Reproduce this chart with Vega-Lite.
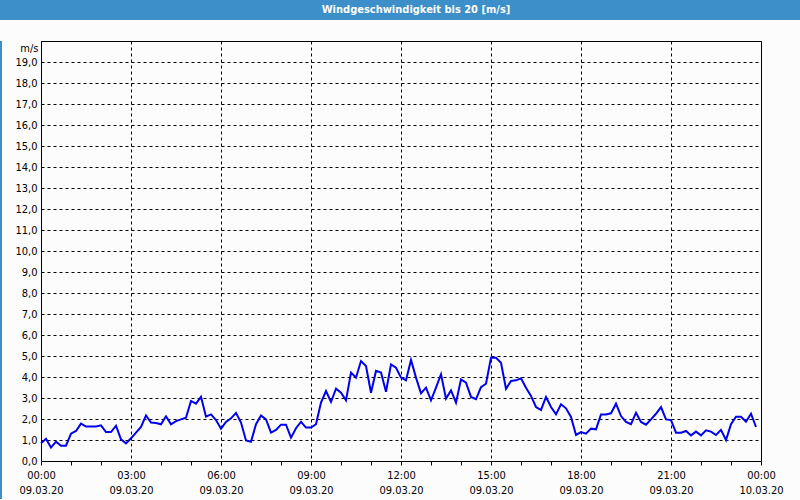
{
  "$schema": "https://vega.github.io/schema/vega-lite/v6.json",
  "background": "#fbfcfb",
  "padding": 0,
  "spacing": 0,
  "align": "none",
  "config": {
    "view": {"stroke": "black", "strokeWidth": 1},
    "font": "DejaVu Sans Condensed, DejaVu Sans"
  },
  "vconcat": [
    {
      "width": 800,
      "height": 20,
      "view": {"fill": "#3c8fc8", "stroke": null},
      "data": {"values": [{"label": "Windgeschwindigkeit bis 20 [m/s]"}]},
      "mark": {"type": "text", "color": "white", "fontWeight": "bold", "fontSize": 11, "baseline": "middle", "align": "center", "dx": 16},
      "encoding": {"text": {"field": "label"}}
    },
    {
      "spacing": 0,
      "align": "none",
      "hconcat": [
        {
          "width": 2,
          "height": 458,
          "view": {"stroke": null},
          "data": {"values": [{"a": 1}]},
          "mark": {"type": "rect", "color": "#3c8fc8"},
          "encoding": {}
        },
        {
          "width": 720,
          "height": 420,
          "view": {"fill": "#fbfcfb", "stroke": "black"},
          "data": {"values": [
            {"t":"2020-03-09T00:00","v":0.84},{"t":"2020-03-09T00:10","v":1.06},{"t":"2020-03-09T00:20","v":0.64},{"t":"2020-03-09T00:30","v":0.92},{"t":"2020-03-09T00:40","v":0.73},{"t":"2020-03-09T00:50","v":0.73},
            {"t":"2020-03-09T01:00","v":1.30},{"t":"2020-03-09T01:10","v":1.43},{"t":"2020-03-09T01:20","v":1.78},{"t":"2020-03-09T01:30","v":1.64},{"t":"2020-03-09T01:40","v":1.64},{"t":"2020-03-09T01:50","v":1.64},
            {"t":"2020-03-09T02:00","v":1.70},{"t":"2020-03-09T02:10","v":1.38},{"t":"2020-03-09T02:20","v":1.38},{"t":"2020-03-09T02:30","v":1.68},{"t":"2020-03-09T02:40","v":1.03},{"t":"2020-03-09T02:50","v":0.84},
            {"t":"2020-03-09T03:00","v":1.08},{"t":"2020-03-09T03:10","v":1.35},{"t":"2020-03-09T03:20","v":1.62},{"t":"2020-03-09T03:30","v":2.17},{"t":"2020-03-09T03:40","v":1.83},{"t":"2020-03-09T03:50","v":1.81},
            {"t":"2020-03-09T04:00","v":1.75},{"t":"2020-03-09T04:10","v":2.13},{"t":"2020-03-09T04:20","v":1.75},{"t":"2020-03-09T04:30","v":1.90},{"t":"2020-03-09T04:40","v":1.98},{"t":"2020-03-09T04:50","v":2.06},
            {"t":"2020-03-09T05:00","v":2.86},{"t":"2020-03-09T05:10","v":2.73},{"t":"2020-03-09T05:20","v":3.06},{"t":"2020-03-09T05:30","v":2.11},{"t":"2020-03-09T05:40","v":2.22},{"t":"2020-03-09T05:50","v":1.95},
            {"t":"2020-03-09T06:00","v":1.54},{"t":"2020-03-09T06:10","v":1.86},{"t":"2020-03-09T06:20","v":2.03},{"t":"2020-03-09T06:30","v":2.29},{"t":"2020-03-09T06:40","v":1.83},{"t":"2020-03-09T06:50","v":0.98},
            {"t":"2020-03-09T07:00","v":0.92},{"t":"2020-03-09T07:10","v":1.75},{"t":"2020-03-09T07:20","v":2.17},{"t":"2020-03-09T07:30","v":1.98},{"t":"2020-03-09T07:40","v":1.35},{"t":"2020-03-09T07:50","v":1.48},
            {"t":"2020-03-09T08:00","v":1.73},{"t":"2020-03-09T08:10","v":1.73},{"t":"2020-03-09T08:20","v":1.11},{"t":"2020-03-09T08:30","v":1.56},{"t":"2020-03-09T08:40","v":1.87},{"t":"2020-03-09T08:50","v":1.59},
            {"t":"2020-03-09T09:00","v":1.59},{"t":"2020-03-09T09:10","v":1.75},{"t":"2020-03-09T09:20","v":2.78},{"t":"2020-03-09T09:30","v":3.33},{"t":"2020-03-09T09:40","v":2.81},{"t":"2020-03-09T09:50","v":3.44},
            {"t":"2020-03-09T10:00","v":3.25},{"t":"2020-03-09T10:10","v":2.89},{"t":"2020-03-09T10:20","v":4.21},{"t":"2020-03-09T10:30","v":3.97},{"t":"2020-03-09T10:40","v":4.76},{"t":"2020-03-09T10:50","v":4.52},
            {"t":"2020-03-09T11:00","v":3.25},{"t":"2020-03-09T11:10","v":4.29},{"t":"2020-03-09T11:20","v":4.21},{"t":"2020-03-09T11:30","v":3.30},{"t":"2020-03-09T11:40","v":4.60},{"t":"2020-03-09T11:50","v":4.44},
            {"t":"2020-03-09T12:00","v":3.97},{"t":"2020-03-09T12:10","v":3.84},{"t":"2020-03-09T12:20","v":4.81},{"t":"2020-03-09T12:30","v":3.97},{"t":"2020-03-09T12:40","v":3.22},{"t":"2020-03-09T12:50","v":3.49},
            {"t":"2020-03-09T13:00","v":2.89},{"t":"2020-03-09T13:10","v":3.49},{"t":"2020-03-09T13:20","v":4.13},{"t":"2020-03-09T13:30","v":2.97},{"t":"2020-03-09T13:40","v":3.36},{"t":"2020-03-09T13:50","v":2.78},
            {"t":"2020-03-09T14:00","v":3.89},{"t":"2020-03-09T14:10","v":3.73},{"t":"2020-03-09T14:20","v":3.05},{"t":"2020-03-09T14:30","v":2.94},{"t":"2020-03-09T14:40","v":3.52},{"t":"2020-03-09T14:50","v":3.68},
            {"t":"2020-03-09T15:00","v":4.92},{"t":"2020-03-09T15:10","v":4.92},{"t":"2020-03-09T15:20","v":4.68},{"t":"2020-03-09T15:30","v":3.44},{"t":"2020-03-09T15:40","v":3.81},{"t":"2020-03-09T15:50","v":3.84},
            {"t":"2020-03-09T16:00","v":3.94},{"t":"2020-03-09T16:10","v":3.49},{"t":"2020-03-09T16:20","v":3.10},{"t":"2020-03-09T16:30","v":2.57},{"t":"2020-03-09T16:40","v":2.43},{"t":"2020-03-09T16:50","v":3.05},
            {"t":"2020-03-09T17:00","v":2.57},{"t":"2020-03-09T17:10","v":2.22},{"t":"2020-03-09T17:20","v":2.70},{"t":"2020-03-09T17:30","v":2.51},{"t":"2020-03-09T17:40","v":2.10},{"t":"2020-03-09T17:50","v":1.24},
            {"t":"2020-03-09T18:00","v":1.38},{"t":"2020-03-09T18:10","v":1.30},{"t":"2020-03-09T18:20","v":1.54},{"t":"2020-03-09T18:30","v":1.51},{"t":"2020-03-09T18:40","v":2.22},{"t":"2020-03-09T18:50","v":2.22},
            {"t":"2020-03-09T19:00","v":2.27},{"t":"2020-03-09T19:10","v":2.73},{"t":"2020-03-09T19:20","v":2.14},{"t":"2020-03-09T19:30","v":1.86},{"t":"2020-03-09T19:40","v":1.75},{"t":"2020-03-09T19:50","v":2.30},
            {"t":"2020-03-09T20:00","v":1.86},{"t":"2020-03-09T20:10","v":1.73},{"t":"2020-03-09T20:20","v":1.98},{"t":"2020-03-09T20:30","v":2.25},{"t":"2020-03-09T20:40","v":2.57},{"t":"2020-03-09T20:50","v":1.98},
            {"t":"2020-03-09T21:00","v":1.95},{"t":"2020-03-09T21:10","v":1.35},{"t":"2020-03-09T21:20","v":1.35},{"t":"2020-03-09T21:30","v":1.43},{"t":"2020-03-09T21:40","v":1.22},{"t":"2020-03-09T21:50","v":1.40},
            {"t":"2020-03-09T22:00","v":1.22},{"t":"2020-03-09T22:10","v":1.46},{"t":"2020-03-09T22:20","v":1.40},{"t":"2020-03-09T22:30","v":1.24},{"t":"2020-03-09T22:40","v":1.48},{"t":"2020-03-09T22:50","v":1.00},
            {"t":"2020-03-09T23:00","v":1.75},{"t":"2020-03-09T23:10","v":2.11},{"t":"2020-03-09T23:20","v":2.11},{"t":"2020-03-09T23:30","v":1.87},{"t":"2020-03-09T23:40","v":2.25},{"t":"2020-03-09T23:50","v":1.62}
          ]},
          "resolve": {"axis": {"x": "independent", "y": "independent"}},
          "layer": [
            {
              "mark": {"type": "line", "color": "#0000ee", "strokeWidth": 2, "interpolate": "linear"},
              "encoding": {
                "x": {
                  "field": "t", "type": "temporal",
                  "scale": {"domain": [{"year": 2020, "month": 3, "date": 9, "hours": 0}, {"year": 2020, "month": 3, "date": 10, "hours": 0}], "nice": false},
                  "axis": {
                    "orient": "bottom",
                    "title": null,
                    "domain": false,
                    "values": [
                      {"year": 2020, "month": 3, "date": 9, "hours": 0},{"year": 2020, "month": 3, "date": 9, "hours": 1},{"year": 2020, "month": 3, "date": 9, "hours": 2},
                      {"year": 2020, "month": 3, "date": 9, "hours": 3},{"year": 2020, "month": 3, "date": 9, "hours": 4},{"year": 2020, "month": 3, "date": 9, "hours": 5},
                      {"year": 2020, "month": 3, "date": 9, "hours": 6},{"year": 2020, "month": 3, "date": 9, "hours": 7},{"year": 2020, "month": 3, "date": 9, "hours": 8},
                      {"year": 2020, "month": 3, "date": 9, "hours": 9},{"year": 2020, "month": 3, "date": 9, "hours": 10},{"year": 2020, "month": 3, "date": 9, "hours": 11},
                      {"year": 2020, "month": 3, "date": 9, "hours": 12},{"year": 2020, "month": 3, "date": 9, "hours": 13},{"year": 2020, "month": 3, "date": 9, "hours": 14},
                      {"year": 2020, "month": 3, "date": 9, "hours": 15},{"year": 2020, "month": 3, "date": 9, "hours": 16},{"year": 2020, "month": 3, "date": 9, "hours": 17},
                      {"year": 2020, "month": 3, "date": 9, "hours": 18},{"year": 2020, "month": 3, "date": 9, "hours": 19},{"year": 2020, "month": 3, "date": 9, "hours": 20},
                      {"year": 2020, "month": 3, "date": 9, "hours": 21},{"year": 2020, "month": 3, "date": 9, "hours": 22},{"year": 2020, "month": 3, "date": 9, "hours": 23},
                      {"year": 2020, "month": 3, "date": 10, "hours": 0}
                    ],
                    "grid": true,
                    "gridColor": "black",
                    "gridDash": [3, 3],
                    "gridWidth": 1,
                    "gridOpacity": {"condition": {"test": "hours(datum.value) % 3 == 0", "value": 1}, "value": 0},
                    "ticks": true,
                    "tickColor": "black",
                    "tickSize": 4,
                    "tickWidth": 1,
                    "labelExpr": "hours(datum.value) % 3 == 0 ? [timeFormat(datum.value, '%H:%M'), timeFormat(datum.value, '%d.%m.%y')] : ''",
                    "labelFontSize": 11,
                    "labelColor": "black",
                    "labelPadding": 4,
                    "labelLineHeight": 15,
                    "labelOverlap": false,
                    "labelFlush": false,
                    "labelBound": false,
                    "minExtent": 38,
                    "maxExtent": 38
                  }
                },
                "y": {
                  "field": "v", "type": "quantitative",
                  "scale": {"domain": [0, 20], "nice": false, "zero": true},
                  "axis": {
                    "orient": "left",
                    "values": [0,1,2,3,4,5,6,7,8,9,10,11,12,13,14,15,16,17,18,19],
                    "title": "m/s",
                    "titleAngle": 0,
                    "titleX": -3,
                    "titleY": 7,
                    "titleAlign": "right",
                    "titleBaseline": "middle",
                    "titleFontSize": 11,
                    "titleFontWeight": "normal",
                    "titleColor": "black",
                    "domain": false,
                    "ticks": false,
                    "grid": true,
                    "gridColor": "black",
                    "gridDash": [3, 3],
                    "gridWidth": 1,
                    "labelExpr": "replace(format(datum.value, '.1f'), '.', ',')",
                    "labelFontSize": 11,
                    "labelColor": "black",
                    "labelPadding": 4,
                    "labelOverlap": false,
                    "labelBound": false,
                    "minExtent": 38,
                    "maxExtent": 38
                  }
                }
              }
            },
            {
              "mark": {"type": "line", "opacity": 0},
              "encoding": {
                "x": {
                  "field": "t", "type": "temporal",
                  "axis": {"orient": "top", "title": null, "labels": false, "ticks": false, "domain": false, "grid": false, "minExtent": 20, "maxExtent": 20}
                },
                "y": {
                  "field": "v", "type": "quantitative",
                  "axis": {"orient": "right", "title": null, "labels": false, "ticks": false, "domain": false, "grid": false, "minExtent": 38, "maxExtent": 38}
                }
              }
            }
          ]
        },
        {
          "width": 2,
          "height": 458,
          "view": {"stroke": null},
          "data": {"values": [{"a": 1}]},
          "mark": {"type": "rect", "color": "#3c8fc8"},
          "encoding": {}
        }
      ]
    },
    {
      "width": 800,
      "height": 2,
      "view": {"stroke": null},
      "data": {"values": [{"a": 1}]},
      "mark": {"type": "rect", "color": "#3c8fc8"},
      "encoding": {}
    }
  ]
}
